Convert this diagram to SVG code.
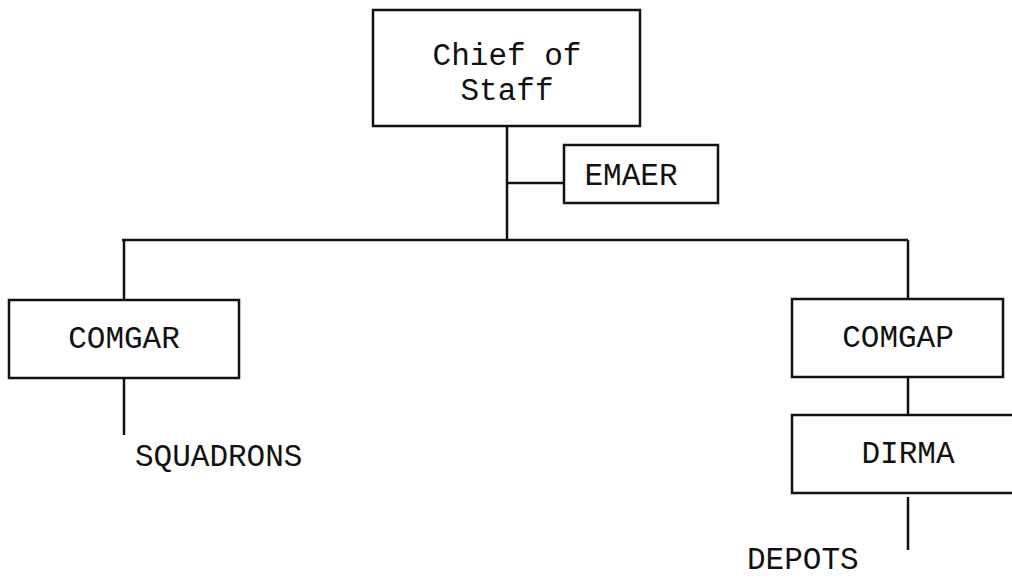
<svg xmlns="http://www.w3.org/2000/svg" width="1012" height="578" viewBox="0 0 1012 578">
<style>
.box{fill:#fff;stroke:#111;stroke-width:2.5}
.ln{stroke:#111;stroke-width:2.5;fill:none}
text{font-family:"Liberation Mono","Courier New",monospace;font-size:31px;fill:#111}
.c{text-anchor:middle}
</style>
<rect width="1012" height="578" fill="#fff"/>
<g id="connectors">
<line class="ln" x1="507" y1="126" x2="507" y2="240"/>
<line class="ln" x1="507" y1="183" x2="564" y2="183"/>
<line class="ln" x1="122" y1="240" x2="908" y2="240"/>
<line class="ln" x1="124" y1="240" x2="124" y2="300"/>
<line class="ln" x1="124" y1="378" x2="124" y2="435"/>
<line class="ln" x1="908" y1="240" x2="908" y2="299"/>
<line class="ln" x1="908" y1="377" x2="908" y2="415"/>
<line class="ln" x1="908" y1="497" x2="908" y2="550"/>
</g>
<g id="chief">
<rect class="box" x="373" y="10" width="267" height="116"/>
<text class="c" x="507" y="65">Chief of</text>
<text class="c" x="507" y="100">Staff</text>
</g>
<g id="emaer">
<rect class="box" x="564" y="145" width="154" height="58"/>
<text class="c" x="631" y="185">EMAER</text>
</g>
<g id="comgar">
<rect class="box" x="9" y="300" width="230" height="78"/>
<text class="c" x="124" y="348">COMGAR</text>
</g>
<g id="squadrons">
<text x="135" y="466">SQUADRONS</text>
</g>
<g id="comgap">
<rect class="box" x="792" y="299" width="211" height="78"/>
<text class="c" x="898" y="347">COMGAP</text>
</g>
<g id="dirma">
<rect class="box" x="792" y="415" width="240" height="78"/>
<text class="c" x="908" y="463">DIRMA</text>
</g>
<g id="depots">
<text x="747" y="569">DEPOTS</text>
</g>
</svg>
